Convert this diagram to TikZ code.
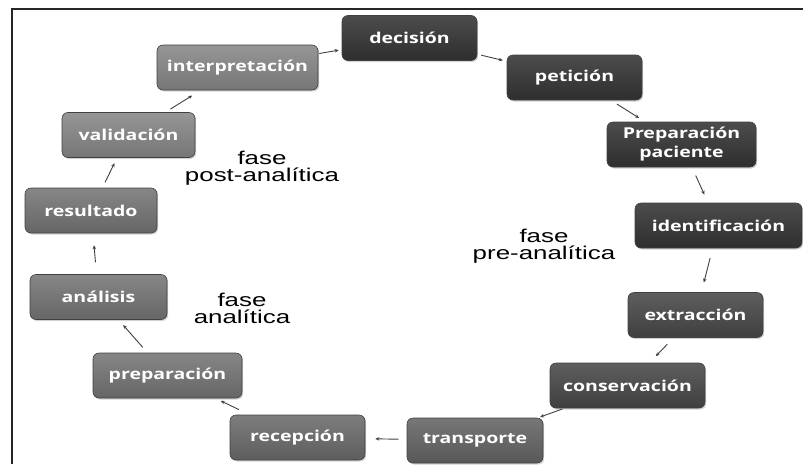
\documentclass[tikz,border=0pt]{standalone}
\usepackage{fontspec}
\usepackage{tikz}
\usetikzlibrary{arrows.meta,shadows}
\newfontfamily\cajafont[FakeStretch=1.3]{Open Sans}
\newfontfamily\fasefont[FakeStretch=1.4]{Liberation Sans}
\definecolor{grisA}{HTML}{2E2E2E}
\definecolor{grisAclaro}{HTML}{4C4C4C}
\definecolor{grisB}{HTML}{3F3F3F}
\definecolor{grisBclaro}{HTML}{5E5E5E}
\definecolor{grisC}{HTML}{585858}
\definecolor{grisCclaro}{HTML}{777777}
\definecolor{grisD}{HTML}{666666}
\definecolor{grisDclaro}{HTML}{868686}
\definecolor{grisE}{HTML}{767676}
\definecolor{grisEclaro}{HTML}{969696}
\tikzset{
  etapa/.style={
    rounded corners=6pt,
    draw=black!75,
    line width=0.6pt,
    align=center,
    minimum width=135pt,
    minimum height=45pt,
    inner sep=2pt,
    text=white,
    font=\cajafont\bfseries\fontsize{15}{19}\selectfont,
    drop shadow={opacity=0.35,shadow xshift=1.2pt,shadow yshift=-1.5pt}
  },
  tonoA/.style={etapa, top color=grisAclaro, bottom color=grisA},
  tonoB/.style={etapa, top color=grisBclaro, bottom color=grisB},
  tonoC/.style={etapa, top color=grisCclaro, bottom color=grisC},
  tonoD/.style={etapa, top color=grisDclaro, bottom color=grisD},
  tonoE/.style={etapa, top color=grisEclaro, bottom color=grisE},
  fase/.style={
    align=center,
    font=\fasefont\fontsize{18.5}{17}\selectfont
  },
  flecha/.style={
    -{Stealth[length=4pt,width=3.5pt]},
    line width=0.9pt,
    black!75,
    shorten <=7pt,
    shorten >=7pt
  }
}

\begin{document}
\begin{tikzpicture}[x=1pt,y=-1pt]
\useasboundingbox (0,0) rectangle (803,464);
% marco
\draw[line width=1.4pt, black!85] (12,464) -- (12,9) -- (803,9);

% fase pre-analitica
\node[tonoA] (decision) at (409.5,38) {decisión};
\node[tonoA] (peticion) at (574.5,77.5) {petición};
\node[tonoA, minimum width=149pt] (paciente) at (681.5,144.5) {Preparación\\paciente};
\node[tonoA, minimum width=167pt] (identificacion) at (718.5,225.5) {identificación};
\node[tonoB] (extraccion) at (695.5,315) {extracción};
\node[tonoB, minimum width=155pt] (conservacion) at (627.5,385.5) {conservación};
\node[tonoC, minimum width=136pt] (transporte) at (475,440.5) {transporte};
% fase analitica
\node[tonoC, top color=grisCclaro!60!grisDclaro, bottom color=grisC!60!grisD] (recepcion) at (297.5,437.5) {recepción};
\node[tonoD, minimum width=149pt] (preparacion) at (167.5,375.5) {preparación};
\node[tonoD, minimum width=137pt] (analisis) at (98.5,297) {análisis};
% fase post-analitica
\node[tonoD, minimum width=132pt] (resultado) at (91,210.5) {resultado};
\node[tonoE, minimum width=133pt] (validacion) at (128.5,135) {validación};
\node[tonoE, minimum width=161pt] (interpretacion) at (237.5,67.5) {interpretación};

\node[fase] (prean) at (544,246) {fase\\pre-analítica};
\node[fase] (anal) at (242,308) {fase\\analítica};
\node[fase] (postan) at (262,168) {fase\\post-analítica};

\draw[flecha, shorten <=4pt, shorten >=4pt] (decision) -- (peticion);
\draw[flecha] (peticion) -- (paciente);
\draw[flecha, shorten <=9pt, shorten >=9pt] (paciente) -- (identificacion);
\draw[flecha, shorten <=10pt, shorten >=10pt] (identificacion) -- (extraccion);
\draw[flecha, shorten <=9pt, shorten >=9pt] (extraccion) -- (conservacion);
\draw[flecha, shorten <=2pt, shorten >=2pt] (conservacion) -- (transporte);
\draw[flecha, shorten <=8pt, shorten >=10pt] (transporte) -- (recepcion);
\draw[flecha, shorten <=12pt, shorten >=6pt] (recepcion) -- (preparacion);
\draw[flecha] (preparacion) -- (analisis);
\draw[flecha, shorten <=12pt, shorten >=12pt] (analisis) -- (resultado);
\draw[flecha, shorten <=6pt, shorten >=6pt] (resultado) -- (validacion);
\draw[flecha, shorten <=6pt, shorten >=10pt] (validacion) -- (interpretacion);
\draw[flecha, shorten <=1pt, shorten >=3pt] (interpretacion) -- (decision);
\end{tikzpicture}
\end{document}
